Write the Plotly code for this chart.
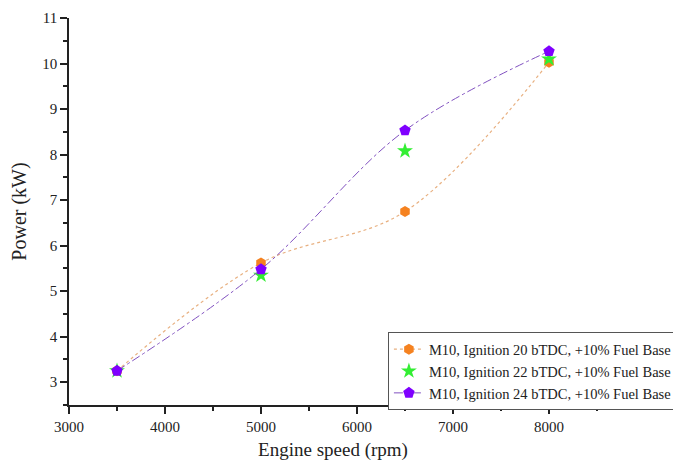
import plotly.graph_objects as go

speed = [3500, 5000, 6500, 8000]
p20 = [3.25, 5.62, 6.75, 10.03]
p22 = [3.25, 5.35, 8.08, 10.10]
p24 = [3.25, 5.48, 8.53, 10.27]

names = ["M10, Ignition 20 bTDC, +10% Fuel Base",
         "M10, Ignition 22 bTDC, +10% Fuel Base",
         "M10, Ignition 24 bTDC, +10% Fuel Base"]

FONT = "Liberation Serif, Times New Roman, serif"

fig = go.Figure()
fig.add_trace(go.Scatter(x=speed, y=p20, name=names[0], mode="lines+markers",
                         line=dict(color="#e8b080", width=1.2, dash="dot", shape="spline", smoothing=1),
                         marker=dict(symbol="hexagon", size=11, color="#f58220")))
fig.add_trace(go.Scatter(x=speed, y=p22, name=names[1], mode="markers",
                         marker=dict(symbol="star", size=12, color="#33ee33")))
fig.add_trace(go.Scatter(x=speed, y=p24, name=names[2], mode="lines+markers",
                         line=dict(color="#8050c0", width=1, dash="dashdot", shape="spline", smoothing=1),
                         marker=dict(symbol="pentagon", size=12, color="#7f00ff")))

# page body has an 8px margin, so the figure is sized and offset to fit the 681x461 window
fig.update_layout(
    width=673, height=453,
    margin=dict(l=61, r=84, t=10, b=56, autoexpand=False),
    paper_bgcolor="white", plot_bgcolor="white",
    font=dict(family=FONT, size=15, color="#222"),
    showlegend=True,
    legend=dict(x=0.604, y=0.188, xanchor="left", yanchor="top",
                bordercolor="#555", borderwidth=1, bgcolor="white",
                font=dict(size=14.5, family=FONT), tracegroupgap=0, itemwidth=30),
)
fig.update_xaxes(range=[3000, 8500], tickvals=[3000, 4000, 5000, 6000, 7000, 8000],
                 automargin=False,
                 showline=True, linecolor="#222", linewidth=1.5, ticks="outside",
                 ticklen=7, tickwidth=1.5, tickcolor="#222", showgrid=False, zeroline=False,
                 minor=dict(dtick=500, tick0=3000, ticks="outside", ticklen=4, tickcolor="#222", showgrid=False),
                 title=dict(text="Engine speed (rpm)", font=dict(size=19, family=FONT), standoff=14),
                 tickfont=dict(size=15, family=FONT))
fig.update_yaxes(range=[2.5, 11], tickvals=[3, 4, 5, 6, 7, 8, 9, 10, 11],
                 automargin=False,
                 showline=True, linecolor="#222", linewidth=1.5, ticks="outside",
                 ticklen=7, tickwidth=1.5, tickcolor="#222", showgrid=False, zeroline=False,
                 minor=dict(dtick=0.5, tick0=2.5, ticks="outside", ticklen=4, tickcolor="#222", showgrid=False),
                 title=dict(text="Power (kW)", font=dict(size=20, family=FONT), standoff=14),
                 tickfont=dict(size=15, family=FONT))

fig.write_html("out.html")
